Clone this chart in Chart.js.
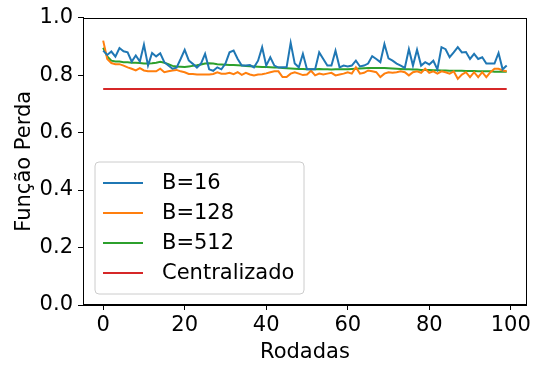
<!DOCTYPE html>
<html>
<head>
<meta charset="utf-8">
<script src="https://cdn.jsdelivr.net/npm/chart.js@4/dist/chart.umd.min.js"></script>
<style>
  html, body { margin: 0; padding: 0; background: #fff; }
  #wrap { width: 534px; height: 365px; position: relative; }
</style>
</head>
<body>
<div id="wrap"><canvas id="c" width="534" height="365"></canvas></div>
<script>
const rounds = [0,1,2,3,4,5,6,7,8,9,10,11,12,13,14,15,16,17,18,19,20,21,22,23,24,25,26,27,28,29,30,31,32,33,34,35,36,37,38,39,40,41,42,43,44,45,46,47,48,49,50,51,52,53,54,55,56,57,58,59,60,61,62,63,64,65,66,67,68,69,70,71,72,73,74,75,76,77,78,79,80,81,82,83,84,85,86,87,88,89,90,91,92,93,94,95,96,97,98,99];

const b16 = [0.885,0.870,0.882,0.864,0.894,0.883,0.879,0.847,0.868,0.847,
             0.906,0.833,0.877,0.865,0.876,0.845,0.833,0.822,0.826,0.856,
             0.888,0.851,0.839,0.826,0.840,0.874,0.820,0.815,0.827,0.820,
             0.840,0.879,0.885,0.856,0.833,0.833,0.835,0.827,0.850,0.897,
             0.833,0.862,0.833,0.826,0.827,0.827,0.912,0.840,0.827,0.874,
             0.820,0.820,0.820,0.879,0.856,0.833,0.833,0.885,0.827,0.833,
             0.830,0.833,0.850,0.830,0.833,0.840,0.866,0.856,0.845,0.908,
             0.858,0.850,0.840,0.833,0.825,0.890,0.833,0.888,0.833,0.845,
             0.837,0.850,0.820,0.897,0.890,0.862,0.879,0.897,0.879,0.880,
             0.856,0.874,0.856,0.862,0.840,0.840,0.840,0.877,0.820,0.833];

const b128 = [0.920,0.856,0.842,0.838,0.838,0.833,0.827,0.822,0.816,0.824,
              0.816,0.813,0.813,0.813,0.822,0.810,0.813,0.816,0.818,0.813,
              0.810,0.804,0.804,0.802,0.802,0.802,0.802,0.804,0.810,0.805,
              0.805,0.808,0.803,0.810,0.801,0.808,0.802,0.799,0.802,0.803,
              0.806,0.810,0.813,0.813,0.793,0.793,0.805,0.810,0.805,0.800,
              0.802,0.815,0.799,0.805,0.802,0.805,0.808,0.799,0.802,0.805,
              0.810,0.805,0.827,0.805,0.808,0.816,0.813,0.810,0.793,0.805,
              0.810,0.808,0.810,0.813,0.810,0.799,0.810,0.813,0.808,0.822,
              0.808,0.813,0.805,0.813,0.810,0.805,0.813,0.787,0.802,0.810,
              0.793,0.810,0.793,0.810,0.793,0.810,0.822,0.822,0.816,0.813];

const b512 = [0.895,0.865,0.850,0.847,0.847,0.845,0.845,0.843,0.843,0.842,
              0.840,0.840,0.841,0.843,0.846,0.843,0.838,0.832,0.830,0.829,
              0.828,0.830,0.832,0.834,0.837,0.840,0.841,0.840,0.838,0.837,
              0.836,0.835,0.835,0.834,0.833,0.832,0.831,0.830,0.829,0.828,
              0.828,0.827,0.826,0.826,0.825,0.824,0.823,0.822,0.821,0.821,
              0.820,0.820,0.820,0.821,0.820,0.820,0.819,0.820,0.820,0.820,
              0.820,0.821,0.822,0.823,0.824,0.825,0.825,0.825,0.825,0.825,
              0.824,0.823,0.822,0.821,0.820,0.820,0.819,0.819,0.818,0.818,
              0.818,0.817,0.817,0.816,0.816,0.815,0.815,0.815,0.815,0.814,
              0.814,0.814,0.813,0.813,0.813,0.813,0.812,0.812,0.812,0.812];

const centralizado = [0.752,0.752,0.752,0.752,0.752,0.752,0.752,0.752,0.752,0.752,
                      0.752,0.752,0.752,0.752,0.752,0.752,0.752,0.752,0.752,0.752,
                      0.752,0.752,0.752,0.752,0.752,0.752,0.752,0.752,0.752,0.752,
                      0.752,0.752,0.752,0.752,0.752,0.752,0.752,0.752,0.752,0.752,
                      0.752,0.752,0.752,0.752,0.752,0.752,0.752,0.752,0.752,0.752,
                      0.752,0.752,0.752,0.752,0.752,0.752,0.752,0.752,0.752,0.752,
                      0.752,0.752,0.752,0.752,0.752,0.752,0.752,0.752,0.752,0.752,
                      0.752,0.752,0.752,0.752,0.752,0.752,0.752,0.752,0.752,0.752,
                      0.752,0.752,0.752,0.752,0.752,0.752,0.752,0.752,0.752,0.752,
                      0.752,0.752,0.752,0.752,0.752,0.752,0.752,0.752,0.752,0.752];

const seriesLabels = ['B=16', 'B=128', 'B=512', 'Centralizado'];
const xTicks = [0, 20, 40, 60, 80, 100];
const yTicks = [0.0, 0.2, 0.4, 0.6, 0.8, 1.0];

const colors = ['#1f77b4', '#ff7f0e', '#2ca02c', '#d62728'];
const FONT = 'DejaVu Sans';
const FS = 21;

function pts(vals) { return rounds.map((r, i) => ({ x: r, y: vals[i] })); }

const allSeries = [b16, b128, b512, centralizado];

Chart.defaults.color = '#000';
Chart.defaults.font.family = FONT;
Chart.defaults.font.size = FS;

const framePlugin = {
  id: 'frame',
  afterDatasetsDraw(chart) {
    const { ctx, chartArea: a } = chart;
    ctx.save();
    ctx.strokeStyle = '#000';
    ctx.lineWidth = 1;
    ctx.strokeRect(Math.round(a.left) + 0.5, Math.round(a.top) + 0.5,
                   Math.round(a.right - a.left) - 1, Math.round(a.bottom - a.top) - 1);
    ctx.restore();
  }
};

const legendPlugin = {
  id: 'mplLegend',
  afterDatasetsDraw(chart) {
    const { ctx } = chart;
    const x0 = 95, y0 = 162, w = 209, h = 132, r = 4;
    ctx.save();
    ctx.beginPath();
    ctx.moveTo(x0 + r, y0);
    ctx.arcTo(x0 + w, y0, x0 + w, y0 + h, r);
    ctx.arcTo(x0 + w, y0 + h, x0, y0 + h, r);
    ctx.arcTo(x0, y0 + h, x0, y0, r);
    ctx.arcTo(x0, y0, x0 + w, y0, r);
    ctx.closePath();
    ctx.fillStyle = 'rgba(255,255,255,0.8)';
    ctx.fill();
    ctx.strokeStyle = '#cccccc';
    ctx.lineWidth = 1;
    ctx.stroke();
    ctx.font = FS + 'px "' + FONT + '"';
    ctx.textBaseline = 'middle';
    ctx.textAlign = 'left';
    chart.data.datasets.forEach((ds, i) => {
      const yy = 183 + i * 30;
      ctx.beginPath();
      ctx.strokeStyle = ds.borderColor;
      ctx.lineWidth = 2;
      ctx.moveTo(103, yy);
      ctx.lineTo(143, yy);
      ctx.stroke();
      ctx.fillStyle = '#000';
      ctx.fillText(ds.label, 162, yy + 1);
    });
    ctx.restore();
  }
};

new Chart(document.getElementById('c'), {
  type: 'line',
  data: {
    datasets: allSeries.map((vals, i) => ({
      label: seriesLabels[i],
      data: pts(vals),
      borderColor: colors[i],
      backgroundColor: colors[i],
      borderWidth: 2,
      pointRadius: 0,
      tension: 0,
      fill: false
    }))
  },
  options: {
    responsive: false,
    animation: false,
    layout: { padding: { left: 0, top: 15, right: 5, bottom: 0 } },
    plugins: { legend: { display: false }, tooltip: { enabled: false } },
    scales: {
      x: {
        type: 'linear',
        min: -4.95,
        max: 103.95,
        afterBuildTicks: (s) => { s.ticks = xTicks.map(v => ({ value: v })); },
        afterFit: (s) => { s.height = 60; },
        ticks: { padding: 3, maxRotation: 0, autoSkip: false, color: '#000', font: { size: FS } },
        grid: { drawOnChartArea: false, drawTicks: true, tickLength: 5, tickColor: '#000' },
        border: { display: true, color: '#000', width: 1 },
        title: { display: true, text: 'Rodadas', color: '#000', font: { size: FS }, padding: { top: 0, bottom: 0 } }
      },
      y: {
        min: 0,
        max: 1,
        afterBuildTicks: (s) => { s.ticks = yTicks.map(v => ({ value: v })); },
        afterFit: (s) => { s.width = 83; },
        ticks: { padding: 5, color: '#000', font: { size: FS }, callback: (v) => Number(v).toFixed(1) },
        grid: { drawOnChartArea: false, drawTicks: true, tickLength: 5, tickColor: '#000' },
        border: { display: true, color: '#000', width: 1 },
        title: { display: true, text: 'Função Perda', color: '#000', font: { size: FS }, padding: { top: 12, bottom: 0 } }
      }
    }
  },
  plugins: [framePlugin, legendPlugin]
});
</script>
</body>
</html>
